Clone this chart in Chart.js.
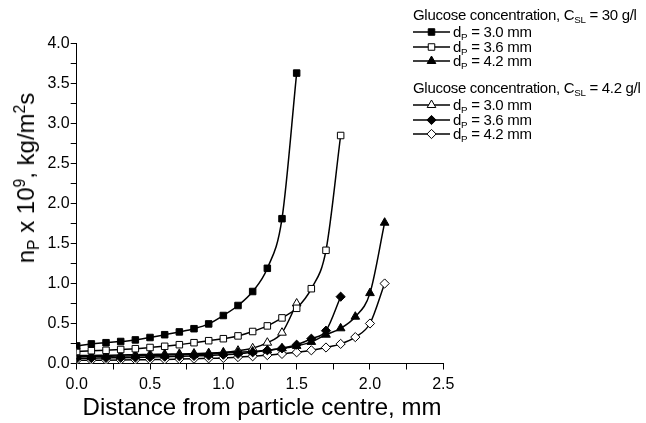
<!DOCTYPE html>
<html>
<head>
<meta charset="utf-8">
<script src="https://cdn.jsdelivr.net/npm/chart.js@4/dist/chart.umd.min.js"></script>
<style>
  html,body{margin:0;padding:0;background:#fff;}
  #wrap{position:relative;width:646px;height:423px;font-family:"Liberation Sans",Arial,sans-serif;color:#000;}
  #c{position:absolute;left:0;top:0;}
  .t{position:absolute;white-space:nowrap;line-height:1;}
  .sub{font-size:0.65em;position:relative;top:0.35em;}
  .sup{font-size:0.65em;position:relative;top:-0.55em;}
  .leg{font-size:15px;letter-spacing:-0.3px;}
</style>
</head>
<body>
<div id="wrap">
  <canvas id="c" width="646" height="423"></canvas>
  <div class="t" id="ytitle" style="font-size:24px;left:26px;top:178px;transform:translate(-50%,-50%) rotate(-90deg);">n<span class="sub">P</span> x 10<span class="sup">9</span>, kg/m<span class="sup">2</span>s</div>
  <div class="t" id="xtitle" style="font-size:24px;left:262px;top:395px;transform:translateX(-50%);">Distance from particle centre, mm</div>
  <div class="t leg" style="left:413px;top:7px;">Glucose concentration, C<span class="sub">SL</span> = 30 g/l</div>
  <div class="t leg" style="left:453px;top:24px;">d<span class="sub">P</span> = 3.0 mm</div>
  <div class="t leg" style="left:453px;top:39px;">d<span class="sub">P</span> = 3.6 mm</div>
  <div class="t leg" style="left:453px;top:53px;">d<span class="sub">P</span> = 4.2 mm</div>
  <div class="t leg" style="left:413px;top:80px;">Glucose concentration, C<span class="sub">SL</span> = 4.2 g/l</div>
  <div class="t leg" style="left:453px;top:97px;">d<span class="sub">P</span> = 3.0 mm</div>
  <div class="t leg" style="left:453px;top:112px;">d<span class="sub">P</span> = 3.6 mm</div>
  <div class="t leg" style="left:453px;top:126px;">d<span class="sub">P</span> = 4.2 mm</div>
</div>
<script>
// Distances from particle centre (mm)
const dist15 = [0.0,0.1,0.2,0.3,0.4,0.5,0.6,0.7,0.8,0.9,1.0,1.1,1.2,1.3,1.4,1.5];
const dist18 = [0.0,0.1,0.2,0.3,0.4,0.5,0.6,0.7,0.8,0.9,1.0,1.1,1.2,1.3,1.4,1.5,1.6,1.7,1.8];
const dist21 = [0.0,0.1,0.2,0.3,0.4,0.5,0.6,0.7,0.8,0.9,1.0,1.1,1.2,1.3,1.4,1.5,1.6,1.7,1.8,1.9,2.0,2.1];

// C_SL = 30 g/l
const hi_d30 = [0.22,0.245,0.26,0.275,0.295,0.325,0.36,0.395,0.435,0.495,0.60,0.725,0.90,1.19,1.81,3.63];
const hi_d36 = [0.15,0.16,0.165,0.175,0.185,0.20,0.215,0.235,0.26,0.285,0.31,0.345,0.40,0.47,0.57,0.69,0.935,1.415,2.85];
const hi_d42 = [0.085,0.087,0.09,0.093,0.097,0.10,0.105,0.11,0.115,0.12,0.13,0.14,0.15,0.165,0.19,0.22,0.27,0.36,0.44,0.585,0.88,1.76];
// C_SL = 4.2 g/l
const lo_d30 = [0.10,0.10,0.103,0.106,0.11,0.113,0.117,0.12,0.125,0.13,0.14,0.16,0.19,0.26,0.385,0.75];
const lo_d36 = [0.065,0.067,0.07,0.072,0.075,0.08,0.085,0.09,0.095,0.10,0.11,0.12,0.14,0.165,0.19,0.235,0.31,0.41,0.835];
const lo_d42 = [0.04,0.04,0.042,0.044,0.046,0.048,0.05,0.055,0.06,0.065,0.07,0.08,0.09,0.105,0.12,0.14,0.165,0.20,0.245,0.33,0.50,1.0];

const seriesLabels = ['30 g/l, dP = 3.0 mm','30 g/l, dP = 3.6 mm','30 g/l, dP = 4.2 mm','4.2 g/l, dP = 3.0 mm','4.2 g/l, dP = 3.6 mm','4.2 g/l, dP = 4.2 mm'];

const pts = (xs, ys) => xs.map((x, i) => ({x: x, y: ys[i]}));

const styles = [
  {ps:'rect', fill:'#000', r:4.6},
  {ps:'rect', fill:'#fff', r:4.6},
  {ps:'triangle', fill:'#000', r:5},
  {ps:'triangle', fill:'#fff', r:5},
  {ps:'rectRot', fill:'#000', r:4.6},
  {ps:'rectRot', fill:'#fff', r:4.6}
];
const seriesData = [pts(dist15,hi_d30), pts(dist18,hi_d36), pts(dist21,hi_d42), pts(dist15,lo_d30), pts(dist18,lo_d36), pts(dist21,lo_d42)];

const datasets = seriesData.map((d, i) => ({
  label: seriesLabels[i],
  data: d,
  borderColor: '#000',
  borderWidth: 1.5,
  backgroundColor: styles[i].fill,
  pointStyle: styles[i].ps,
  pointRadius: styles[i].r,
  pointBackgroundColor: styles[i].fill,
  pointBorderColor: '#000',
  pointBorderWidth: 1,
  tension: 0.4,
  cubicInterpolationMode: 'monotone',
  fill: false
}));

const legendRows = [32, 47, 61, 105, 120, 134];
const legendPlugin = {
  id: 'sampleLegend',
  afterDraw(chart) {
    const ctx = chart.ctx;
    chart.data.datasets.forEach((ds, i) => {
      const y = legendRows[i];
      ctx.save();
      ctx.strokeStyle = '#000';
      ctx.lineWidth = 1.5;
      ctx.beginPath();
      ctx.moveTo(413, y);
      ctx.lineTo(450, y);
      ctx.stroke();
      ctx.fillStyle = ds.pointBackgroundColor;
      ctx.strokeStyle = '#000';
      ctx.lineWidth = 1;
      Chart.helpers.drawPoint(ctx, {pointStyle: ds.pointStyle, radius: ds.pointRadius, rotation: 0, borderWidth: 1}, 431.5, y);
      ctx.restore();
    });
  }
};

new Chart(document.getElementById('c'), {
  type: 'line',
  data: {datasets},
  plugins: [legendPlugin],
  options: {
    responsive: false,
    animation: false,
    events: [],
    layout: {padding: {left: 0, right: 202.7, top: 43.5, bottom: 0}},
    plugins: {legend: {display: false}, tooltip: {enabled: false}},
    scales: {
      x: {
        type: 'linear', min: 0, max: 2.5,
        afterFit: s => { s.height = 59.5; },
        ticks: {
          stepSize: 0.25, autoSkip: false, maxRotation: 0, color: '#000', padding: 5,
          font: {family: '"Liberation Sans", Arial, sans-serif', size: 16},
          callback: v => (Math.abs(v * 2 - Math.round(v * 2)) < 1e-6 ? Number(v).toFixed(1) : '')
        },
        grid: {drawOnChartArea: false, drawTicks: true, tickLength: 6, color: '#000', tickColor: '#000'},
        border: {display: true, color: '#000', width: 1}
      },
      y: {
        type: 'linear', min: 0, max: 4,
        afterFit: s => { s.width = 76.7; },
        ticks: {
          stepSize: 0.25, autoSkip: false, color: '#000', padding: 1,
          font: {family: '"Liberation Sans", Arial, sans-serif', size: 16},
          callback: v => (Math.abs(v * 2 - Math.round(v * 2)) < 1e-6 ? Number(v).toFixed(1) : '')
        },
        grid: {drawOnChartArea: false, drawTicks: true, tickLength: 6, color: '#000', tickColor: '#000'},
        border: {display: true, color: '#000', width: 1}
      }
    }
  }
});
</script>
</body>
</html>
